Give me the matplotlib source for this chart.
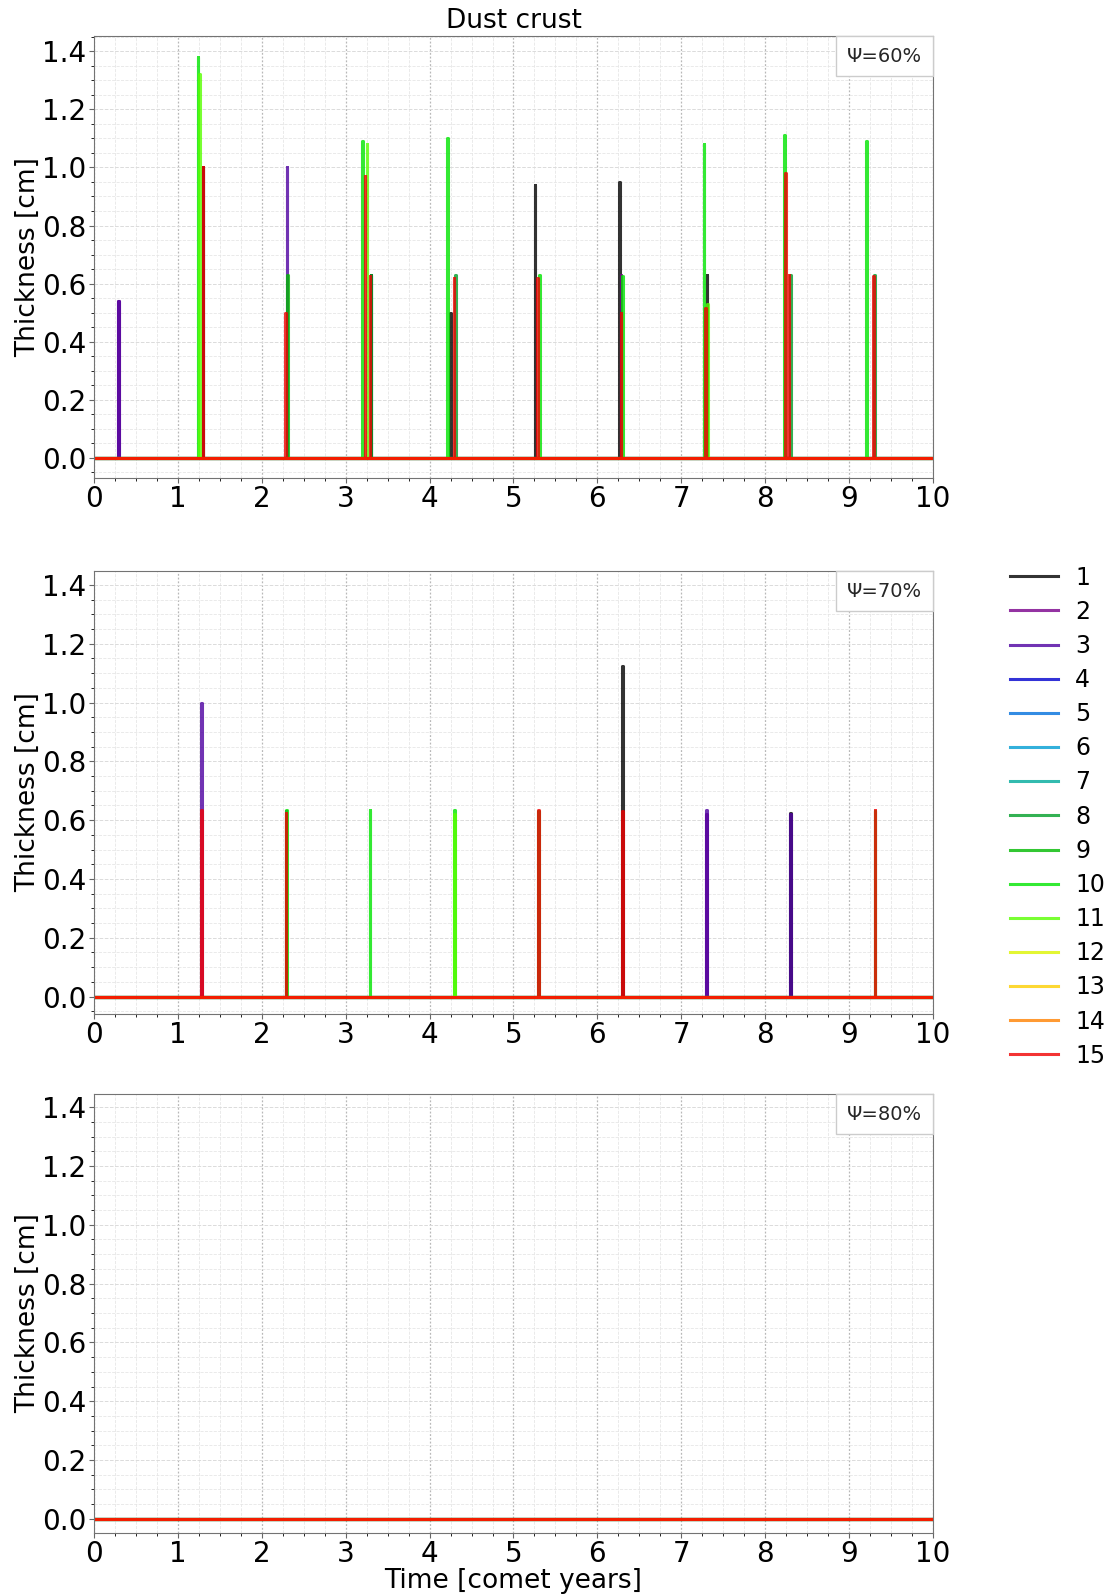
"""
Dust crust thickness per layer, three porosity cases (Psi = 60 / 70 / 80 %)
out.png
"""

import numpy as np
import matplotlib
matplotlib.use("Agg")
import matplotlib.pyplot as plt
from matplotlib.ticker import MultipleLocator
from matplotlib.offsetbox import AnchoredText

# ── data ───────────────────────────────────────────────────────────────────────
# crust events: layer number, time [comet years], thickness [cm]
LAYERS = list(range(1, 16))
T_END = 10.0

PSI60_LAYER = [2, 3, 10, 11, 1, 15, 15, 3, 9, 10, 15, 11, 1, 8, 15,
               10, 1, 15, 8, 1, 15, 10, 1, 2, 15, 10, 10, 15, 11, 1,
               10, 15, 15, 8, 10, 15, 8]
PSI60_TIME = [0.29, 0.29, 1.24, 1.26, 1.30, 1.30, 2.28, 2.30, 2.31, 3.20, 3.23, 3.255, 3.30, 3.30, 3.29,
              4.21, 4.25, 4.29, 4.31, 5.255, 5.29, 5.31, 6.26, 6.28, 6.28, 6.30, 7.27, 7.29, 7.31, 7.305,
              8.23, 8.24, 8.285, 8.305, 9.21, 9.29, 9.30]
PSI60_THICK = [0.54, 0.54, 1.38, 1.32, 1.00, 1.00, 0.50, 1.00, 0.63, 1.09, 0.97, 1.08, 0.63, 0.63, 0.625,
               1.10, 0.50, 0.62, 0.63, 0.94, 0.62, 0.63, 0.95, 0.63, 0.50, 0.625, 1.08, 0.515, 0.53, 0.63,
               1.11, 0.98, 0.63, 0.63, 1.09, 0.625, 0.63]

PSI70_LAYER = [3, 15, 2, 10, 15, 10, 10, 11, 9, 15, 1, 15, 2, 3, 3, 1, 10, 15]
PSI70_TIME = [1.285, 1.285, 2.29, 2.295, 2.29, 3.29, 4.30, 4.30, 5.30, 5.30, 6.30, 6.30, 7.30, 7.30, 8.30, 8.30, 9.31, 9.31]
PSI70_THICK = [1.00, 0.635, 0.63, 0.635, 0.625, 0.635, 0.635, 0.62, 0.63, 0.635, 1.125, 0.63, 0.62, 0.635, 0.62, 0.625, 0.63, 0.635]

PSI80_LAYER = []
PSI80_TIME = []
PSI80_THICK = []

PANELS = [
    ("Ψ=60%", PSI60_LAYER, PSI60_TIME, PSI60_THICK),
    ("Ψ=70%", PSI70_LAYER, PSI70_TIME, PSI70_THICK),
    ("Ψ=80%", PSI80_LAYER, PSI80_TIME, PSI80_THICK),
]

COLORS = plt.cm.nipy_spectral(np.linspace(0, 0.87, len(LAYERS)))
HALF_W = 0.004   # half width of a crust pulse in time


def layer_curve(layer, lay, tt, hh):
    """thickness vs time for one layer: zero except short pulses"""
    ev = sorted((t, h) for l, t, h in zip(lay, tt, hh) if l == layer)
    x = [0.0]; y = [0.0]
    for t, h in ev:
        x += [t - HALF_W, t - HALF_W, t + HALF_W, t + HALF_W]
        y += [0.0, h, h, 0.0]
    x.append(T_END); y.append(0.0)
    return x, y


# ── plot ───────────────────────────────────────────────────────────────────────
fig = plt.figure(figsize=(11.1, 15.96), dpi=100)
# axes boxes [left, bottom, width, height] in figure fraction, and y ranges
BOXES = [
    [0.0847, 0.7005, 0.7558, 0.2769],
    [0.0847, 0.3647, 0.7558, 0.2776],
    [0.0847, 0.0395, 0.7558, 0.2751],
]
YLIMS = [(-0.069, 1.452), (-0.059, 1.448), (-0.048, 1.445)]

axes = [fig.add_axes(box) for box in BOXES]

for ax, yl, (tag, lay, tt, hh) in zip(axes, YLIMS, PANELS):
    for i, layer in enumerate(LAYERS):
        x, y = layer_curve(layer, lay, tt, hh)
        ax.plot(x, y, color=COLORS[i], alpha=0.8, linewidth=2.2, label=str(layer))

    ax.set_xlim(0, T_END)
    ax.set_ylim(*yl)
    ax.xaxis.set_major_locator(MultipleLocator(1))
    ax.xaxis.set_minor_locator(MultipleLocator(0.25))
    ax.yaxis.set_major_locator(MultipleLocator(0.2))
    ax.yaxis.set_minor_locator(MultipleLocator(0.05))
    ax.tick_params(labelsize=20, color="0.4")
    ax.tick_params(axis="x", pad=1.5)
    ax.tick_params(axis="y", pad=2)
    ax.grid(which="minor", color="0.9", linestyle="--", linewidth=0.6)
    ax.yaxis.grid(which="major", color="0.86", linestyle="--", linewidth=0.7)
    ax.xaxis.grid(which="major", color="0.72", linestyle=(0, (1.5, 1.5)), linewidth=0.9)
    ax.set_axisbelow(True)
    for s in ax.spines.values():
        s.set_color("0.45")
    ax.set_ylabel("Thickness [cm]", fontsize=19, labelpad=1)

    at = AnchoredText(tag, loc="upper right", borderpad=0, pad=0.55,
                      prop=dict(size=14, color="0.15"))
    at.patch.set_boxstyle("square", pad=0)
    at.patch.set_edgecolor("0.8")
    ax.add_artist(at)

axes[0].set_title("Dust crust", fontsize=19)
axes[2].set_xlabel("Time [comet years]", fontsize=19, labelpad=0)
axes[1].legend(loc="upper left", bbox_to_anchor=(1.067, 1.06), frameon=False,
               fontsize=17, labelspacing=0.43, handlelength=2.0, handletextpad=0.75)

fig.savefig("out.png", dpi=100)
